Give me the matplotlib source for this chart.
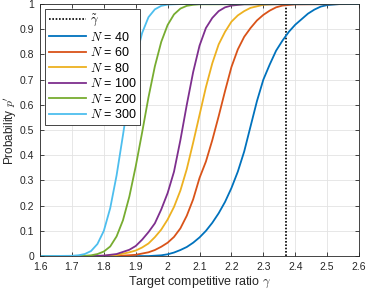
import matplotlib
matplotlib.use("Agg")
import matplotlib.pyplot as plt
import numpy as np

# values
gamma_tilde = 2.37

g300 = [1.60, 1.70, 1.72, 1.74, 1.76, 1.78, 1.80, 1.82, 1.84, 1.86, 1.88,
        1.90, 1.92, 1.94, 1.96, 1.98, 2.00, 2.04, 2.60]
p300 = [0.0, 0.001, 0.003, 0.008, 0.02, 0.048, 0.10, 0.19, 0.32, 0.48, 0.645,
        0.785, 0.885, 0.948, 0.979, 0.993, 0.998, 1.0, 1.0]

g200 = [1.60, 1.74, 1.76, 1.78, 1.80, 1.82, 1.84, 1.86, 1.88, 1.90, 1.92,
        1.94, 1.96, 1.98, 2.00, 2.02, 2.04, 2.06, 2.08, 2.10, 2.60]
p200 = [0.0, 0.001, 0.003, 0.008, 0.018, 0.038, 0.078, 0.142, 0.236, 0.356,
        0.49, 0.63, 0.753, 0.85, 0.917, 0.959, 0.982, 0.993, 0.997, 0.999, 1.0]

g100 = [1.60, 1.76, 1.80, 1.84, 1.88, 1.90, 1.92, 1.94, 1.96, 1.98, 2.00,
        2.02, 2.04, 2.06, 2.08, 2.10, 2.12, 2.14, 2.16, 2.18, 2.20, 2.24, 2.60]
p100 = [0.0, 0.0, 0.002, 0.008, 0.025, 0.04, 0.065, 0.095, 0.13, 0.185, 0.25,
        0.335, 0.46, 0.60, 0.73, 0.835, 0.905, 0.945, 0.972, 0.987, 0.994,
        0.999, 1.0]

g80 = [1.60, 1.78, 1.84, 1.88, 1.90, 1.92, 1.94, 1.96, 1.98, 2.00, 2.02,
       2.04, 2.06, 2.08, 2.10, 2.12, 2.14, 2.16, 2.18, 2.20, 2.22, 2.24,
       2.26, 2.30, 2.34, 2.60]
p80 = [0.0, 0.0, 0.004, 0.015, 0.022, 0.034, 0.05, 0.075, 0.105, 0.145, 0.195,
       0.26, 0.345, 0.45, 0.56, 0.67, 0.765, 0.84, 0.89, 0.93, 0.955, 0.972,
       0.985, 0.997, 1.0, 1.0]

g60 = [1.60, 1.84, 1.90, 1.94, 1.96, 1.98, 2.00, 2.02, 2.04, 2.06, 2.08,
       2.10, 2.12, 2.14, 2.16, 2.18, 2.20, 2.22, 2.24, 2.26, 2.28, 2.30,
       2.32, 2.34, 2.36, 2.40, 2.60]
p60 = [0.0, 0.0, 0.005, 0.015, 0.024, 0.037, 0.053, 0.076, 0.11, 0.16, 0.225,
       0.31, 0.375, 0.46, 0.555, 0.655, 0.75, 0.82, 0.87, 0.905, 0.935, 0.957,
       0.974, 0.987, 0.994, 0.999, 1.0]

g40 = [1.60, 1.94, 1.98, 2.00, 2.02, 2.04, 2.06, 2.08, 2.10, 2.12, 2.14,
       2.16, 2.18, 2.20, 2.22, 2.24, 2.26, 2.28, 2.30, 2.32, 2.34, 2.36,
       2.38, 2.40, 2.42, 2.44, 2.46, 2.48, 2.50, 2.54, 2.60]
p40 = [0.0, 0.0, 0.003, 0.007, 0.014, 0.024, 0.036, 0.053, 0.074, 0.10, 0.132,
       0.17, 0.215, 0.27, 0.335, 0.415, 0.515, 0.615, 0.70, 0.76, 0.815, 0.855,
       0.89, 0.918, 0.94, 0.962, 0.978, 0.99, 0.996, 1.0, 1.0]

series = [
    ("40", g40, p40, "#0072BD"),
    ("60", g60, p60, "#D95319"),
    ("80", g80, p80, "#EDB120"),
    ("100", g100, p100, "#7E2F8E"),
    ("200", g200, p200, "#77AC30"),
    ("300", g300, p300, "#4DBEEE"),
]

plt.rcParams["font.family"] = ["Liberation Sans", "DejaVu Sans"]
plt.rcParams["mathtext.fontset"] = "cm"

fig = plt.figure(figsize=(3.74, 2.90), dpi=100)
ax = fig.add_axes([0.107, 0.117, 0.853, 0.869])

ax.axvline(gamma_tilde, color="black", linestyle=(0, (1, 1)), linewidth=1.2,
           label=r"$\tilde{\gamma}$")
for n, g, p, c in series:
    ax.plot(g, p, color=c, linewidth=1.3, label=rf"$N$ = {n}")

ax.set_xlim(1.6, 2.6)
ax.set_ylim(0, 1)
ax.set_xticks(np.round(np.arange(1.6, 2.61, 0.1), 1))
ax.set_yticks(np.round(np.arange(0, 1.01, 0.1), 1))
ax.set_xticklabels(["1.6", "1.7", "1.8", "1.9", "2", "2.1", "2.2", "2.3",
                    "2.4", "2.5", "2.6"])
ax.set_yticklabels(["0", "0.1", "0.2", "0.3", "0.4", "0.5", "0.6", "0.7",
                    "0.8", "0.9", "1"])
ax.grid(True, color="#e3e3e3", linewidth=0.6)
ax.set_axisbelow(True)
ax.tick_params(direction="in", top=True, right=True, length=3, width=0.6,
               labelsize=7.5, colors="#262626", pad=4)
for s in ax.spines.values():
    s.set_color("#262626")
    s.set_linewidth(0.6)

ax.set_xlabel(r"Target competitive ratio $\gamma$", fontsize=9,
              color="#262626", labelpad=2)
ax.set_ylabel(r"Probability $p^{\prime}$", fontsize=8.5, color="#262626",
              labelpad=1)

leg = ax.legend(loc="upper left", fontsize=9, handlelength=3.0,
                handletextpad=0.3, borderpad=0.3, labelspacing=0.2,
                borderaxespad=0.4, fancybox=False, framealpha=1,
                edgecolor="#262626")
leg.get_frame().set_linewidth(0.6)

fig.savefig("out.png", dpi=100)
